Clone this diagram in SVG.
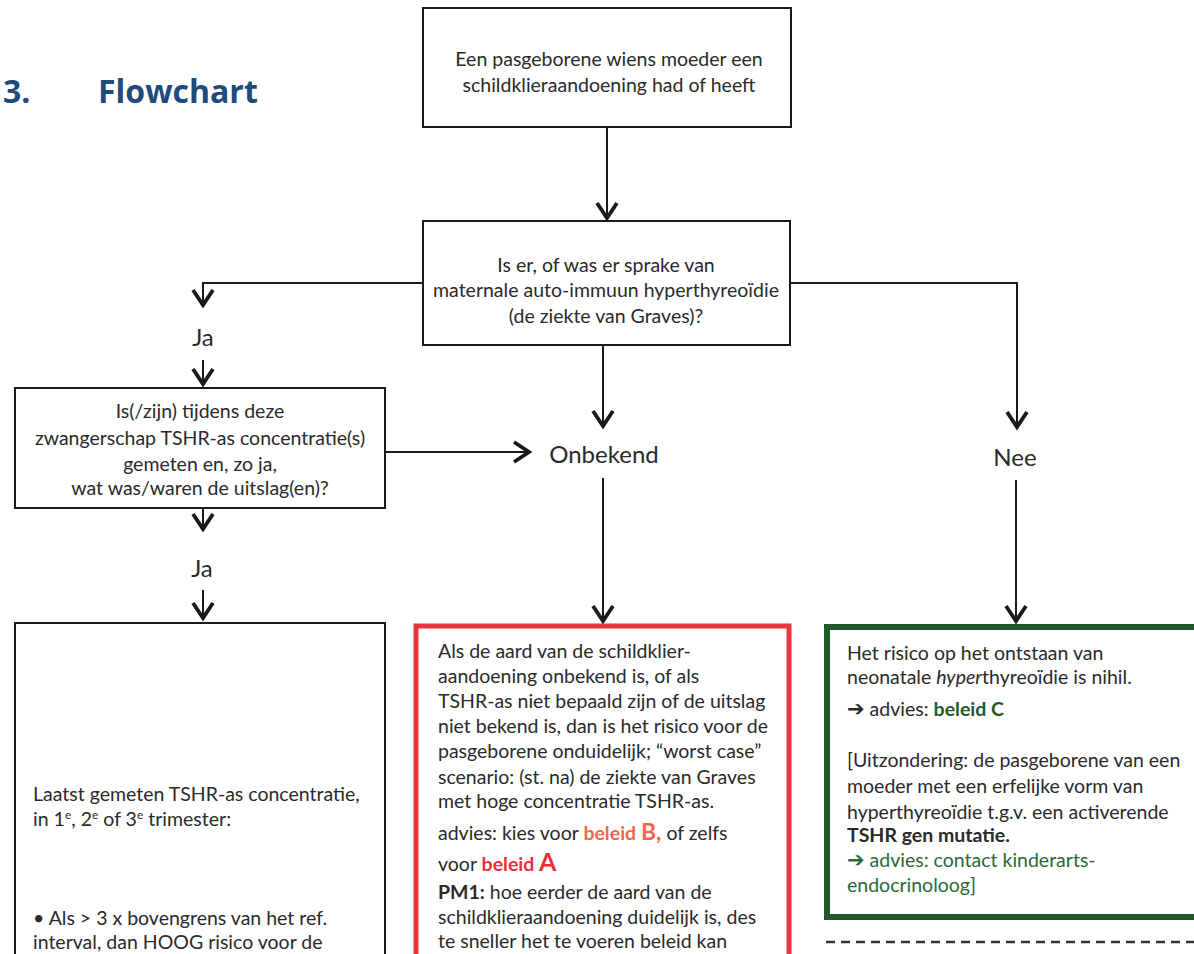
<svg xmlns="http://www.w3.org/2000/svg" width="1194" height="954" viewBox="0 0 1194 954">
<style>
text{font-family:Lato,"Liberation Sans",Arial,sans-serif;font-size:19.5px;fill:#2a2a2a}
.c{text-anchor:middle}
.title{font-family:"Open Sans","Liberation Sans",sans-serif;font-weight:bold;font-size:32px;fill:#1f4a7c}
.box{fill:#fff;stroke:#1a1a1a;stroke-width:2}
.red{fill:#fff;stroke:#e8353b;stroke-width:5}
.green{fill:#fff;stroke:#1f5a2b;stroke-width:6}
.ln{fill:none;stroke:#1a1a1a;stroke-width:2}
.lbl{font-size:24px}
.b{font-weight:bold}
.or{fill:#f2664b;font-weight:bold}
.rd{fill:#e8303a;font-weight:bold}
.gr{fill:#2a6a36}
.grb{fill:#1f5a2b;font-weight:bold}
.arr{font-family:"DejaVu Sans",sans-serif;font-weight:bold;font-size:21px}
</style>
<defs>
<marker id="ah" viewBox="0 0 22 24" refX="19" refY="12" markerWidth="22" markerHeight="24" markerUnits="userSpaceOnUse" orient="auto">
<path d="M3,2 L18,12 L3,22" fill="none" stroke="#1a1a1a" stroke-width="3.8"/>
</marker>
</defs>
<rect width="1194" height="954" fill="#fff"/>
<g id="title">
<text class="title" x="3" y="103">3.</text>
<text class="title" x="98" y="103">Flowchart</text>
</g>
<g id="connectors">
<path class="ln" d="M607,127 V219" marker-end="url(#ah)"/>
<path class="ln" d="M423,283 H203 V306" marker-end="url(#ah)"/>
<path class="ln" d="M203,360 V385" marker-end="url(#ah)"/>
<path class="ln" d="M203,508 V530" marker-end="url(#ah)"/>
<path class="ln" d="M203,590 V619" marker-end="url(#ah)"/>
<path class="ln" d="M385,452 H530" marker-end="url(#ah)"/>
<path class="ln" d="M603,345 V427" marker-end="url(#ah)"/>
<path class="ln" d="M603,478 V622" marker-end="url(#ah)"/>
<path class="ln" d="M790,283 H1017 V428" marker-end="url(#ah)"/>
<path class="ln" d="M1016,480 V622" marker-end="url(#ah)"/>
</g>
<g id="n-start">
<rect class="box" x="423" y="8" width="368" height="119"/>
<text class="c" x="609" y="66" font-size="18.5">Een pasgeborene wiens moeder een</text>
<text class="c" x="609" y="92" font-size="18.5">schildklieraandoening had of heeft</text>
</g>
<g id="n-graves">
<rect class="box" x="423" y="221" width="367" height="124"/>
<text class="c" x="606" y="272">Is er, of was er sprake van</text>
<text class="c" x="606" y="297">maternale auto-immuun hyperthyreoïdie</text>
<text class="c" x="606" y="323">(de ziekte van Graves)?</text>
</g>
<g id="l-ja1"><text class="c lbl" x="203" y="346" font-size="22">Ja</text></g>
<g id="n-tshr">
<rect class="box" x="15" y="388" width="370" height="120"/>
<text class="c" x="200" y="418" font-size="17.3">Is(/zijn) tijdens deze</text>
<text class="c" x="200" y="445" font-size="17.3">zwangerschap TSHR-as concentratie(s)</text>
<text class="c" x="200" y="471" font-size="17.3">gemeten en, zo ja,</text>
<text class="c" x="200" y="495" font-size="17.3">wat was/waren de uitslag(en)?</text>
</g>
<g id="l-ja2"><text class="c lbl" x="202" y="577" font-size="22">Ja</text></g>
<g id="l-onbekend"><text class="c lbl" x="604" y="463">Onbekend</text></g>
<g id="l-nee"><text class="c lbl" x="1015" y="466">Nee</text></g>
<g id="n-last">
<rect class="box" x="15" y="623" width="370" height="345"/>
<text x="33" y="801">Laatst gemeten TSHR-as concentratie,</text>
<text x="33" y="826">in 1<tspan font-size="12" dy="-7">e</tspan><tspan dy="7">, 2</tspan><tspan font-size="12" dy="-7">e</tspan><tspan dy="7"> of 3</tspan><tspan font-size="12" dy="-7">e</tspan><tspan dy="7"> trimester:</tspan></text>
<text x="33" y="925">• Als &gt; 3 x bovengrens van het ref.</text>
<text x="33" y="949">interval, dan HOOG risico voor de</text>
</g>
<g id="n-unknown">
<rect class="red" x="416" y="626" width="373" height="345"/>
<text x="438" y="658">Als de aard van de schildklier-</text>
<text x="438" y="683">aandoening onbekend is, of als</text>
<text x="438" y="708">TSHR-as niet bepaald zijn of de uitslag</text>
<text x="438" y="733">niet bekend is, dan is het risico voor de</text>
<text x="438" y="758">pasgeborene onduidelijk; “worst case”</text>
<text x="438" y="784">scenario: (st. na) de ziekte van Graves</text>
<text x="438" y="808">met hoge concentratie TSHR-as.</text>
<text x="438" y="840">advies: kies voor <tspan class="or">beleid <tspan font-size="23">B,</tspan></tspan> of zelfs</text>
<text x="438" y="871">voor <tspan class="rd">beleid <tspan font-size="25">A</tspan></tspan></text>
<text x="438" y="899"><tspan class="b">PM1:</tspan> hoe eerder de aard van de</text>
<text x="438" y="924">schildklieraandoening duidelijk is, des</text>
<text x="438" y="948">te sneller het te voeren beleid kan</text>
</g>
<g id="n-nee">
<rect class="green" x="827" y="627" width="372" height="290"/>
<text x="847" y="660">Het risico op het ontstaan van</text>
<text x="847" y="684">neonatale <tspan font-style="italic">hyper</tspan>thyreoïdie is nihil.</text>
<text x="847" y="716"><tspan class="arr">➔</tspan> advies: <tspan class="grb">beleid C</tspan></text>
<text x="847" y="767" font-size="20.5">[Uitzondering: de pasgeborene van een</text>
<text x="847" y="793" font-size="20.5">moeder met een erfelijke vorm van</text>
<text x="847" y="819" font-size="20.5">hyperthyreoïdie t.g.v. een activerende</text>
<text x="847" y="842" font-size="20.5" class="b">TSHR gen mutatie.</text>
<text x="847" y="867" font-size="20.5" class="gr"><tspan class="arr" fill="#2a6a36">➔</tspan> advies: contact kinderarts-</text>
<text x="847" y="892" font-size="20.5" class="gr">endocrinoloog]</text>
</g>
<g id="divider">
<path d="M826,942 H1194" fill="none" stroke="#333" stroke-width="2.5" stroke-dasharray="9,6"/>
</g>
</svg>
